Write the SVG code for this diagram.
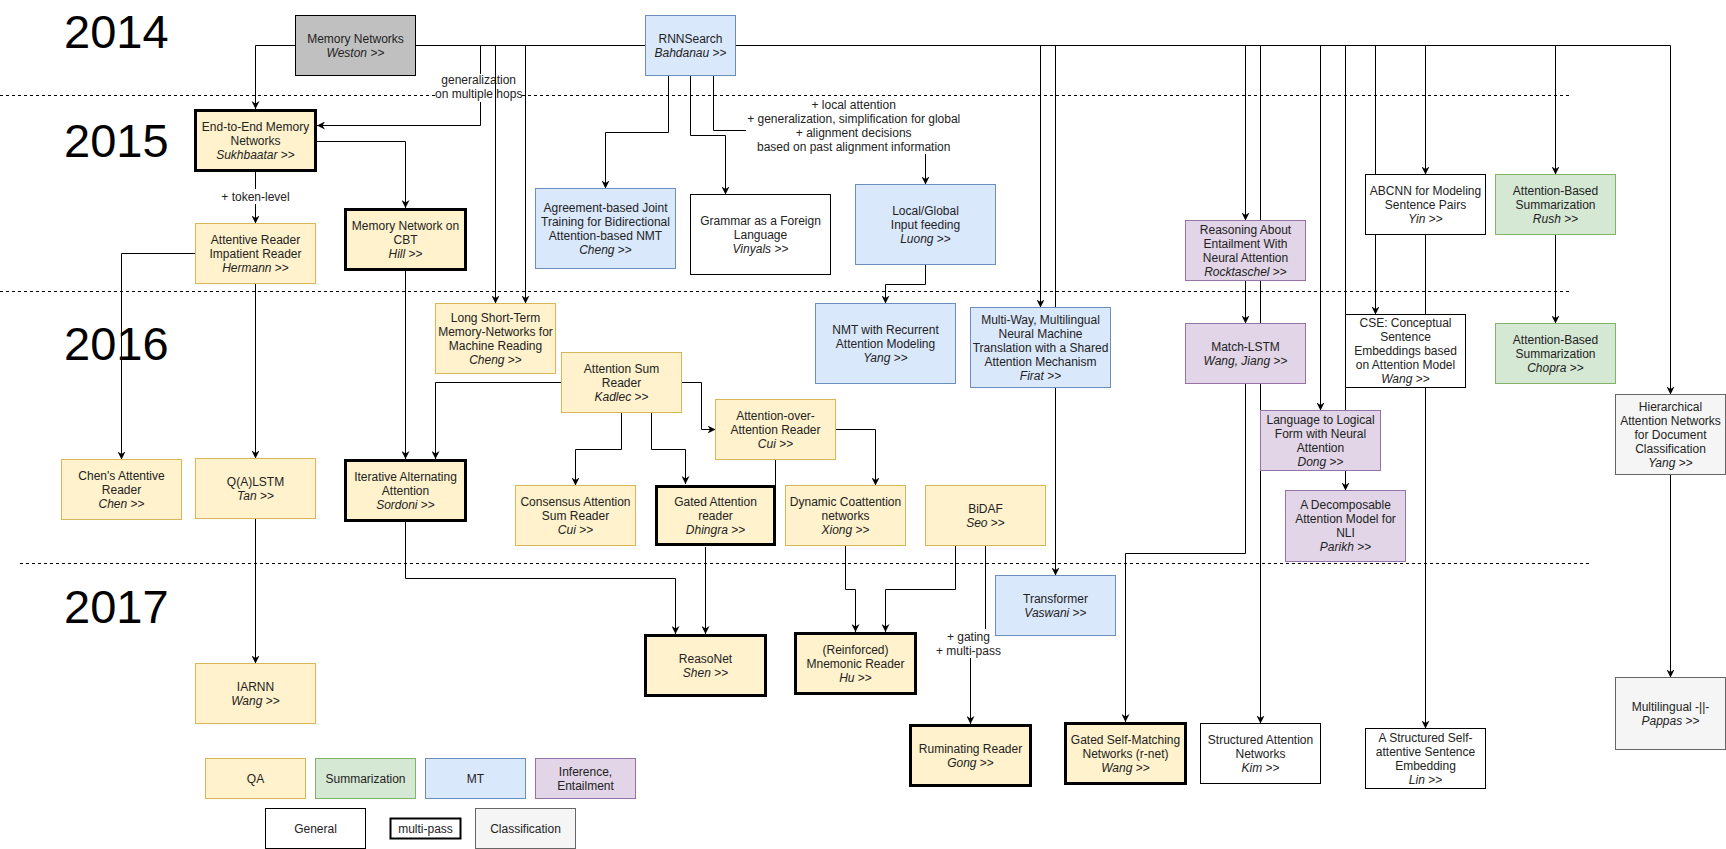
<svg xmlns="http://www.w3.org/2000/svg" width="1726" height="849" viewBox="0 0 1726 849">
<defs>
<marker id="arr" viewBox="0 0 8 8" refX="8" refY="4" markerWidth="8" markerHeight="8" markerUnits="userSpaceOnUse" orient="auto">
<path d="M0,0 L8,4 L0,8 L2.5,4 Z" fill="#000"/>
</marker>
</defs>
<style>
text{font-family:"Liberation Sans",Arial,Helvetica,sans-serif;font-size:12px;fill:#222;text-anchor:middle}
.year{font-size:47px;fill:#000;text-anchor:start}
.i{font-style:italic}
.qa{fill:#fff2cc;stroke:#d6b656;stroke-width:1}
.mt{fill:#dae8fc;stroke:#6c8ebf;stroke-width:1}
.su{fill:#d5e8d4;stroke:#82b366;stroke-width:1}
.inf{fill:#e1d5e7;stroke:#9673a6;stroke-width:1}
.cl{fill:#f5f5f5;stroke:#666666;stroke-width:1}
.gen{fill:#ffffff;stroke:#000;stroke-width:1}
.mp{fill:#fff2cc;stroke:#000;stroke-width:3}
.grey{fill:#c0c0c0;stroke:#000;stroke-width:1}
.e{fill:none;stroke:#000;stroke-width:1}
.ea{fill:none;stroke:#000;stroke-width:1;marker-end:url(#arr)}
.dash{fill:none;stroke:#000;stroke-width:1;stroke-dasharray:3 3}
.lbg{fill:#fff;stroke:none}
</style>
<rect width="1726" height="849" fill="#fff"/>

<g id="years">
<text class="year" x="64" y="48">2014</text>
<text class="year" x="64" y="157">2015</text>
<text class="year" x="64" y="360">2016</text>
<text class="year" x="64" y="623">2017</text>
</g>

<g id="separators">
<path class="dash" d="M0,95.5 H1570"/>
<path class="dash" d="M0,291.5 H1570"/>
<path class="dash" d="M20,563.5 H1590"/>
</g>

<g id="connectors">
<path class="e" d="M415.5,45.5 H645.5"/>
<path class="e" d="M735.5,45.5 H1670.5"/>
<path class="ea" d="M295.5,45.5 H255.5 V109"/>
<path class="ea" d="M480.5,45.5 V125.5 H317"/>
<rect class="lbg" x="437" y="74" width="85" height="28"/>
<text x="478.7" y="84">generalization</text>
<text x="478.7" y="98">on multiple hops</text>
<path class="ea" d="M495.5,45.5 V303.5"/>
<path class="ea" d="M525.5,45.5 V303.5"/>
<path class="ea" d="M1040.5,45.5 V307.5"/>
<path class="ea" d="M1055.5,45.5 V575.5"/>
<path class="ea" d="M1245.5,45.5 V220.5"/>
<path class="ea" d="M1260.5,45.5 V723.5"/>
<path class="ea" d="M1320.5,45.5 V410.5"/>
<path class="ea" d="M1345.5,45.5 V490.5"/>
<path class="ea" d="M1375.5,45.5 V314.5"/>
<path class="ea" d="M1425.5,45.5 V174.5"/>
<path class="ea" d="M1555.5,45.5 V174.5"/>
<path class="ea" d="M1670.5,45.5 V394.5"/>
<path class="ea" d="M255.5,172 V223.5"/>
<rect class="lbg" x="219" y="189" width="73" height="15"/>
<text x="255.5" y="201">+ token-level</text>
<path class="ea" d="M317,141.5 H405.5 V208"/>
<path class="ea" d="M668.5,75.5 V132.5 H605.5 V188.5"/>
<path class="ea" d="M690.5,75.5 V135.5 H725.5 V194.5"/>
<path class="ea" d="M713.5,75.5 V130.5 H925.5 V184.5"/>
<rect class="lbg" x="746" y="98" width="216" height="56"/>
<text x="853.7" y="109">+ local attention</text>
<text x="853.7" y="123">+ generalization, simplification for global</text>
<text x="853.7" y="137">+ alignment decisions</text>
<text x="853.7" y="151">based on past alignment information</text>
<path class="ea" d="M195.5,253.5 H121.5 V459.5"/>
<path class="ea" d="M255.5,283.5 V458.5"/>
<path class="ea" d="M255.5,518.5 V663.5"/>
<path class="ea" d="M405.5,271 V459"/>
<path class="ea" d="M561.5,382.5 H435.5 V459"/>
<path class="ea" d="M681.5,382.5 H701.5 V429.5 H715.5"/>
<path class="ea" d="M621.5,412.5 V449.5 H575.5 V485.5"/>
<path class="ea" d="M651.5,412.5 V449.5 H685.5 V484"/>
<path class="ea" d="M835.5,429.5 H875.5 V485.5"/>
<path class="e" d="M775.5,459.5 V485"/>
<path class="ea" d="M925.5,264.5 V284.5 H885.5 V303.5"/>
<path class="ea" d="M405.5,522 V578.5 H675.5 V634"/>
<path class="ea" d="M705.5,547 V634"/>
<path class="ea" d="M845.5,545.5 V589.5 H855.5 V632"/>
<path class="ea" d="M955.5,545.5 V589.5 H885.5 V632"/>
<path class="ea" d="M985.5,545.5 V643.5 H970.5 V724"/>
<rect class="lbg" x="935" y="629" width="67" height="29"/>
<text x="968.4" y="641">+ gating</text>
<text x="968.4" y="655">+ multi-pass</text>
<path class="ea" d="M1245.5,280.5 V323.5"/>
<path class="ea" d="M1245.5,383.5 V553.5 H1125.5 V722"/>
<path class="ea" d="M1555.5,234.5 V323.5"/>
<path class="ea" d="M1425.5,234.5 V728.5"/>
<path class="ea" d="M1670.5,474.5 V677.5"/>
</g>

<g id="mem"><rect class="grey" x="295.5" y="15.5" width="120" height="60"/><text x="355.5" y="42.5">Memory Networks</text><text x="355.5" y="56.5"><tspan class="i">Weston</tspan> &gt;&gt;</text></g>
<g id="rnn"><rect class="mt" x="645.5" y="15.5" width="90" height="60"/><text x="690.5" y="42.5">RNNSearch</text><text x="690.5" y="56.5"><tspan class="i">Bahdanau</tspan> &gt;&gt;</text></g>
<g id="e2e"><rect class="mp" x="195.5" y="110.5" width="120" height="60"/><text x="255.5" y="130.5">End-to-End Memory</text><text x="255.5" y="144.5">Networks</text><text x="255.5" y="158.5"><tspan class="i">Sukhbaatar</tspan> &gt;&gt;</text></g>
<g id="attr"><rect class="qa" x="195.5" y="223.5" width="120" height="60"/><text x="255.5" y="243.5">Attentive Reader</text><text x="255.5" y="257.5">Impatient Reader</text><text x="255.5" y="271.5"><tspan class="i">Hermann</tspan> &gt;&gt;</text></g>
<g id="cbt"><rect class="mp" x="345.5" y="209.5" width="120" height="60"/><text x="405.5" y="229.5">Memory Network on</text><text x="405.5" y="243.5">CBT</text><text x="405.5" y="257.5"><tspan class="i">Hill</tspan> &gt;&gt;</text></g>
<g id="agree"><rect class="mt" x="535.5" y="188.5" width="140" height="80"/><text x="605.5" y="211.5">Agreement-based Joint</text><text x="605.5" y="225.5">Training for Bidirectional</text><text x="605.5" y="239.5">Attention-based NMT</text><text x="605.5" y="253.5"><tspan class="i">Cheng</tspan> &gt;&gt;</text></g>
<g id="grammar"><rect class="gen" x="690.5" y="194.5" width="140" height="80"/><text x="760.5" y="224.5">Grammar as a Foreign</text><text x="760.5" y="238.5">Language</text><text x="760.5" y="252.5"><tspan class="i">Vinyals</tspan> &gt;&gt;</text></g>
<g id="local"><rect class="mt" x="855.5" y="184.5" width="140" height="80"/><text x="925.5" y="214.5">Local/Global</text><text x="925.5" y="228.5">Input feeding</text><text x="925.5" y="242.5"><tspan class="i">Luong</tspan> &gt;&gt;</text></g>
<g id="reason"><rect class="inf" x="1185.5" y="220.5" width="120" height="60"/><text x="1245.5" y="233.5">Reasoning About</text><text x="1245.5" y="247.5">Entailment With</text><text x="1245.5" y="261.5">Neural Attention</text><text x="1245.5" y="275.5"><tspan class="i">Rocktaschel</tspan> &gt;&gt;</text></g>
<g id="abcnn"><rect class="gen" x="1365.5" y="174.5" width="120" height="60"/><text x="1425.5" y="194.5">ABCNN for Modeling</text><text x="1425.5" y="208.5">Sentence Pairs</text><text x="1425.5" y="222.5"><tspan class="i">Yin</tspan> &gt;&gt;</text></g>
<g id="rush"><rect class="su" x="1495.5" y="174.5" width="120" height="60"/><text x="1555.5" y="194.5">Attention-Based</text><text x="1555.5" y="208.5">Summarization</text><text x="1555.5" y="222.5"><tspan class="i">Rush</tspan> &gt;&gt;</text></g>
<g id="lstmn"><rect class="qa" x="435.5" y="303.5" width="120" height="70"/><text x="495.5" y="321.5">Long Short-Term</text><text x="495.5" y="335.5">Memory-Networks for</text><text x="495.5" y="349.5">Machine Reading</text><text x="495.5" y="363.5"><tspan class="i">Cheng</tspan> &gt;&gt;</text></g>
<g id="nmtrec"><rect class="mt" x="815.5" y="303.5" width="140" height="80"/><text x="885.5" y="333.5">NMT with Recurrent</text><text x="885.5" y="347.5">Attention Modeling</text><text x="885.5" y="361.5"><tspan class="i">Yang</tspan> &gt;&gt;</text></g>
<g id="multiway"><rect class="mt" x="970.5" y="307.5" width="140" height="80"/><text x="1040.5" y="323.5">Multi-Way, Multilingual</text><text x="1040.5" y="337.5">Neural Machine</text><text x="1040.5" y="351.5">Translation with a Shared</text><text x="1040.5" y="365.5">Attention Mechanism</text><text x="1040.5" y="379.5"><tspan class="i">Firat</tspan> &gt;&gt;</text></g>
<g id="matchlstm"><rect class="inf" x="1185.5" y="323.5" width="120" height="60"/><text x="1245.5" y="350.5">Match-LSTM</text><text x="1245.5" y="364.5"><tspan class="i">Wang, Jiang</tspan> &gt;&gt;</text></g>
<g id="cse"><rect class="gen" x="1345.5" y="314.5" width="120" height="73"/><text x="1405.5" y="327">CSE: Conceptual</text><text x="1405.5" y="341">Sentence</text><text x="1405.5" y="355">Embeddings based</text><text x="1405.5" y="369">on Attention Model</text><text x="1405.5" y="383"><tspan class="i">Wang</tspan> &gt;&gt;</text></g>
<g id="chopra"><rect class="su" x="1495.5" y="323.5" width="120" height="60"/><text x="1555.5" y="343.5">Attention-Based</text><text x="1555.5" y="357.5">Summarization</text><text x="1555.5" y="371.5"><tspan class="i">Chopra</tspan> &gt;&gt;</text></g>
<g id="attsum"><rect class="qa" x="561.5" y="352.5" width="120" height="60"/><text x="621.5" y="372.5">Attention Sum</text><text x="621.5" y="386.5">Reader</text><text x="621.5" y="400.5"><tspan class="i">Kadlec</tspan> &gt;&gt;</text></g>
<g id="aoa"><rect class="qa" x="715.5" y="399.5" width="120" height="60"/><text x="775.5" y="419.5">Attention-over-</text><text x="775.5" y="433.5">Attention Reader</text><text x="775.5" y="447.5"><tspan class="i">Cui</tspan> &gt;&gt;</text></g>
<g id="lang"><rect class="inf" x="1260.5" y="410.5" width="120" height="60"/><text x="1320.5" y="423.5">Language to Logical</text><text x="1320.5" y="437.5">Form with Neural</text><text x="1320.5" y="451.5">Attention</text><text x="1320.5" y="465.5"><tspan class="i">Dong</tspan> &gt;&gt;</text></g>
<g id="hier"><rect class="cl" x="1615.5" y="394.5" width="110" height="80"/><text x="1670.5" y="410.5">Hierarchical</text><text x="1670.5" y="424.5">Attention Networks</text><text x="1670.5" y="438.5">for Document</text><text x="1670.5" y="452.5">Classification</text><text x="1670.5" y="466.5"><tspan class="i">Yang</tspan> &gt;&gt;</text></g>
<g id="chen"><rect class="qa" x="61.5" y="459.5" width="120" height="60"/><text x="121.5" y="479.5">Chen's Attentive</text><text x="121.5" y="493.5">Reader</text><text x="121.5" y="507.5"><tspan class="i">Chen</tspan> &gt;&gt;</text></g>
<g id="qalstm"><rect class="qa" x="195.5" y="458.5" width="120" height="60"/><text x="255.5" y="485.5">Q(A)LSTM</text><text x="255.5" y="499.5"><tspan class="i">Tan</tspan> &gt;&gt;</text></g>
<g id="iter"><rect class="mp" x="345.5" y="460.5" width="120" height="60"/><text x="405.5" y="480.5">Iterative Alternating</text><text x="405.5" y="494.5">Attention</text><text x="405.5" y="508.5"><tspan class="i">Sordoni</tspan> &gt;&gt;</text></g>
<g id="consensus"><rect class="qa" x="515.5" y="485.5" width="120" height="60"/><text x="575.5" y="505.5">Consensus Attention</text><text x="575.5" y="519.5">Sum Reader</text><text x="575.5" y="533.5"><tspan class="i">Cui</tspan> &gt;&gt;</text></g>
<g id="gated"><rect class="mp" x="656.5" y="486.5" width="118" height="58"/><text x="715.5" y="505.5">Gated Attention</text><text x="715.5" y="519.5">reader</text><text x="715.5" y="533.5"><tspan class="i">Dhingra</tspan> &gt;&gt;</text></g>
<g id="dcn"><rect class="qa" x="785.5" y="485.5" width="120" height="60"/><text x="845.5" y="505.5">Dynamic Coattention</text><text x="845.5" y="519.5">networks</text><text x="845.5" y="533.5"><tspan class="i">Xiong</tspan> &gt;&gt;</text></g>
<g id="bidaf"><rect class="qa" x="925.5" y="485.5" width="120" height="60"/><text x="985.5" y="512.5">BiDAF</text><text x="985.5" y="526.5"><tspan class="i">Seo</tspan> &gt;&gt;</text></g>
<g id="decomp"><rect class="inf" x="1285.5" y="490.5" width="120" height="71"/><text x="1345.5" y="509">A Decomposable</text><text x="1345.5" y="523">Attention Model for</text><text x="1345.5" y="537">NLI</text><text x="1345.5" y="551"><tspan class="i">Parikh</tspan> &gt;&gt;</text></g>
<g id="transformer"><rect class="mt" x="995.5" y="575.5" width="120" height="60"/><text x="1055.5" y="602.5">Transformer</text><text x="1055.5" y="616.5"><tspan class="i">Vaswani</tspan> &gt;&gt;</text></g>
<g id="reasonet"><rect class="mp" x="645.5" y="635.5" width="120" height="60"/><text x="705.5" y="662.5">ReasoNet</text><text x="705.5" y="676.5"><tspan class="i">Shen</tspan> &gt;&gt;</text></g>
<g id="mnemonic"><rect class="mp" x="795.5" y="633.5" width="120" height="60"/><text x="855.5" y="653.5">(Reinforced)</text><text x="855.5" y="667.5">Mnemonic Reader</text><text x="855.5" y="681.5"><tspan class="i">Hu</tspan> &gt;&gt;</text></g>
<g id="iarnn"><rect class="qa" x="195.5" y="663.5" width="120" height="60"/><text x="255.5" y="690.5">IARNN</text><text x="255.5" y="704.5"><tspan class="i">Wang</tspan> &gt;&gt;</text></g>
<g id="multiling"><rect class="cl" x="1615.5" y="677.5" width="110" height="72"/><text x="1670.5" y="710.5">Multilingual -||-</text><text x="1670.5" y="724.5"><tspan class="i">Pappas</tspan> &gt;&gt;</text></g>
<g id="rumin"><rect class="mp" x="910.5" y="725.5" width="120" height="60"/><text x="970.5" y="752.5">Ruminating Reader</text><text x="970.5" y="766.5"><tspan class="i">Gong</tspan> &gt;&gt;</text></g>
<g id="gsmn"><rect class="mp" x="1065.5" y="723.5" width="120" height="60"/><text x="1125.5" y="743.5">Gated Self-Matching</text><text x="1125.5" y="757.5">Networks (r-net)</text><text x="1125.5" y="771.5"><tspan class="i">Wang</tspan> &gt;&gt;</text></g>
<g id="san"><rect class="gen" x="1200.5" y="723.5" width="120" height="60"/><text x="1260.5" y="743.5">Structured Attention</text><text x="1260.5" y="757.5">Networks</text><text x="1260.5" y="771.5"><tspan class="i">Kim</tspan> &gt;&gt;</text></g>
<g id="selfatt"><rect class="gen" x="1365.5" y="728.5" width="120" height="60"/><text x="1425.5" y="741.5">A Structured Self-</text><text x="1425.5" y="755.5">attentive Sentence</text><text x="1425.5" y="769.5">Embedding</text><text x="1425.5" y="783.5"><tspan class="i">Lin</tspan> &gt;&gt;</text></g>

<g id="legend">
<g id="leg-qa"><rect class="qa" x="205.5" y="758.5" width="100" height="40"/><text x="255.5" y="782.5">QA</text></g>
<g id="leg-su"><rect class="su" x="315.5" y="758.5" width="100" height="40"/><text x="365.5" y="782.5">Summarization</text></g>
<g id="leg-mt"><rect class="mt" x="425.5" y="758.5" width="100" height="40"/><text x="475.5" y="782.5">MT</text></g>
<g id="leg-inf"><rect class="inf" x="535.5" y="758.5" width="100" height="40"/><text x="585.5" y="775.5">Inference,</text><text x="585.5" y="789.5">Entailment</text></g>
<g id="leg-gen"><rect class="gen" x="265.5" y="808.5" width="100" height="40"/><text x="315.5" y="832.5">General</text></g>
<g id="leg-mp"><rect x="390.5" y="818.5" width="70" height="20" fill="#fff" stroke="#000" stroke-width="2"/><text x="425.5" y="832.5">multi-pass</text></g>
<g id="leg-cl"><rect class="cl" x="475.5" y="808.5" width="100" height="40"/><text x="525.5" y="832.5">Classification</text></g>
</g>
</svg>
